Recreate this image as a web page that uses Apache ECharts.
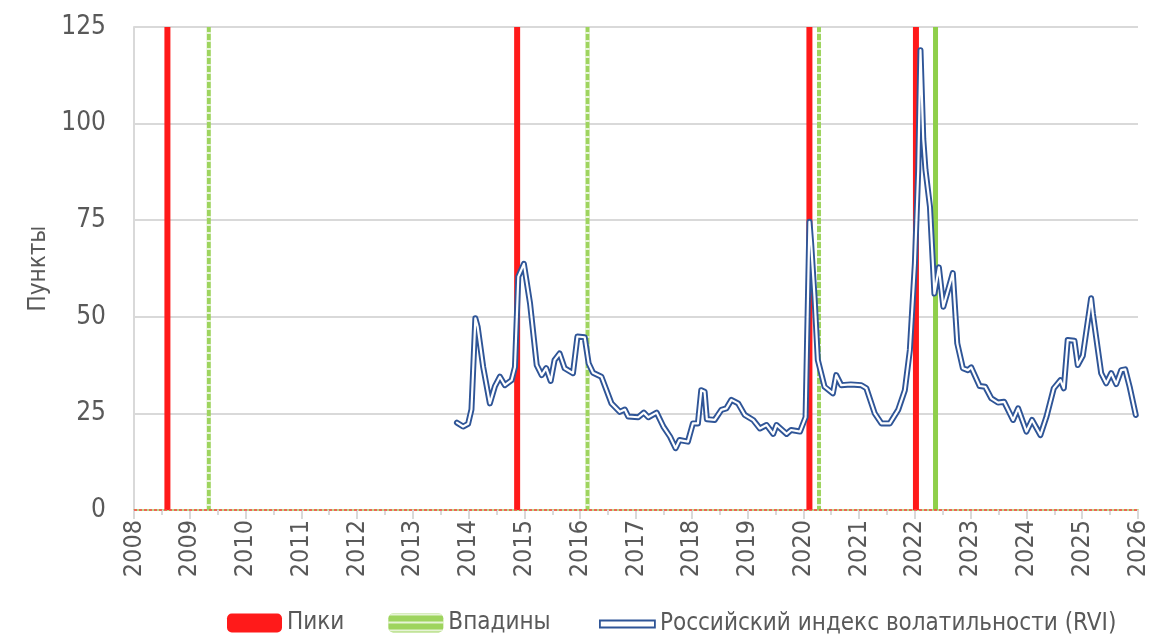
<!DOCTYPE html>
<html>
<head>
<meta charset="utf-8">
<script src="https://cdn.jsdelivr.net/npm/echarts@6/dist/echarts.min.js"></script>
<style>
  html, body { margin: 0; padding: 0; background: #fff; }
  #container1 { width: 1167px; height: 640px; }
</style>
</head>
<body>
<div id="container1"></div>
<script>
// даты пиков и впадин (доли года)
var peakDates = [2008.59, 2014.86, 2020.10, 2022.01];
var troughDates = [2009.35, 2016.14, 2020.29];
var troughSolidDates = [2022.37];

// RVI, точки
var rviDates = [2013.79, 2013.90, 2013.99, 2014.05, 2014.12, 2014.16, 2014.26, 2014.38, 2014.47, 2014.56,
  2014.65, 2014.77, 2014.83, 2014.89, 2014.99, 2015.10, 2015.22, 2015.31, 2015.39, 2015.47,
  2015.54, 2015.63, 2015.72, 2015.87, 2015.95, 2016.08, 2016.15, 2016.23, 2016.38, 2016.56,
  2016.71, 2016.80, 2016.86, 2017.04, 2017.14, 2017.22, 2017.37, 2017.49, 2017.61, 2017.71,
  2017.78, 2017.93, 2018.02, 2018.11, 2018.17, 2018.23, 2018.27, 2018.41, 2018.53, 2018.62,
  2018.71, 2018.83, 2018.95, 2019.10, 2019.22, 2019.34, 2019.46, 2019.52, 2019.70, 2019.78,
  2019.94, 2020.04, 2020.11, 2020.14, 2020.20, 2020.26, 2020.38, 2020.53, 2020.59, 2020.68,
  2020.85, 2021.04, 2021.13, 2021.28, 2021.40, 2021.55, 2021.70, 2021.82, 2021.91, 2022.00,
  2022.06, 2022.10, 2022.15, 2022.19, 2022.27, 2022.35, 2022.43, 2022.51, 2022.68, 2022.76,
  2022.86, 2022.95, 2023.01, 2023.16, 2023.26, 2023.37, 2023.49, 2023.60, 2023.76, 2023.85,
  2024.00, 2024.10, 2024.25, 2024.36, 2024.49, 2024.61, 2024.67, 2024.74, 2024.86, 2024.92,
  2025.01, 2025.16, 2025.19, 2025.34, 2025.43, 2025.52, 2025.61, 2025.70, 2025.77, 2025.85,
  2025.96];
var rviValues = [22.6, 21.6, 22.3, 26, 49.6, 47.5, 37, 27.6, 32, 34.5,
  32.3, 33.6, 37, 60.4, 63.7, 53.5, 37.5, 34.9, 36.7, 33.4,
  38.8, 40.5, 36.7, 35.4, 44.9, 44.7, 38, 35.5, 34.5, 27.6,
  25.4, 26, 24.2, 24, 25.2, 24, 25.2, 21.6, 19, 16,
  18.1, 17.7, 22.4, 22.4, 31, 30.6, 23.5, 23.3, 25.9, 26.3,
  28.5, 27.6, 24.6, 23.3, 21.1, 22, 19.7, 22, 19.7, 20.7,
  20.3, 24, 74.6, 69, 55.2, 38.8, 31.9, 30.2, 34.9, 32.3,
  32.5, 32.3, 31.5, 25, 22.4, 22.4, 25.9, 31, 41.4, 63.8,
  88, 119, 96, 88, 78.5, 56, 62.8, 52.6, 61.3, 43.1,
  36.7, 36.2, 36.9, 32.1, 31.9, 28.9, 27.8, 28, 23.3, 26.3,
  20.3, 23.3, 19.4, 24.2, 31.5, 33.6, 31.5, 44, 43.8, 37.5,
  39.9, 54.8, 50.9, 35.4, 32.8, 35.4, 32.6, 36.2, 36.4, 31.9,
  24.6];

var yMin = 0, yMax = 125, yStep = 25;
var xMin = 2008, xMax = 2026;

var dom = document.getElementById("container1");
var myChart = echarts.init(dom, null, {renderer: 'canvas'});

var FONT = "'Liberation Sans Narrow', 'Arial Narrow', 'DejaVu Sans Condensed', sans-serif";
var TXT = '#595959';
var BLUE = '#2f5597';
var RVI = 'Российский индекс волатильности (RVI)';

var rviData = rviDates.map(function (d, i) { return [d, rviValues[i]]; });
var peakData = peakDates.map(function (d) { return [d, yMax]; });
var troughData = troughDates.map(function (d) { return [d, yMax]; });
var troughSolidData = troughSolidDates.map(function (d) { return [d, yMax]; });

var option = {
  animation: false,
  textStyle: {fontFamily: FONT},
  grid: {left: 134, right: 29, top: 27, bottom: 130},
  legend: [{
    data: ['Пики', 'Впадины'],
    left: 222, top: 606,
    itemWidth: 55, itemHeight: 19, itemGap: 44,
    textStyle: {fontFamily: FONT, fontSize: 24, color: TXT}
  }, {
    data: [{name: RVI, icon: 'rect', itemStyle: {color: '#fff', borderColor: BLUE, borderWidth: 1.8}}],
    left: 594, top: 607,
    itemWidth: 55, itemHeight: 7,
    textStyle: {fontFamily: FONT, fontSize: 24, color: TXT}
  }],
  xAxis: {
    type: 'value',
    min: xMin, max: xMax, interval: 1,
    axisLine: {onZero: false, lineStyle: {color: '#b5dc8c', width: 2}},
    axisTick: {show: true, length: 9, lineStyle: {color: '#d9d9d9', width: 2}},
    minorTick: {show: true, splitNumber: 2, length: 5, lineStyle: {color: '#d9d9d9', width: 2}},
    splitLine: {show: false},
    axisLabel: {
      rotate: 90, margin: 10,
      fontFamily: FONT, fontSize: 25, color: TXT,
      formatter: function (v) { return String(v); }
    }
  },
  yAxis: {
    type: 'value',
    min: yMin, max: yMax, interval: yStep,
    name: 'Пункты', nameLocation: 'middle', nameGap: 80,
    nameTextStyle: {fontFamily: FONT, fontSize: 24, color: TXT},
    axisLine: {show: true, lineStyle: {color: '#d9d9d9', width: 2}},
    axisTick: {show: false},
    splitLine: {lineStyle: {color: '#d9d9d9', width: 2}},
    axisLabel: {margin: 28, fontFamily: FONT, fontSize: 26, color: TXT}
  },
  series: [{
    name: 'Пики',
    type: 'bar',
    barWidth: 6,
    barGap: '-100%',
    itemStyle: {color: '#ff1a1a'},
    data: peakData,
    markLine: {
      silent: true, symbol: 'none', label: {show: false},
      lineStyle: {color: '#ff4040', type: [3, 2], width: 1.5},
      data: [{yAxis: 0}]
    }
  }, {
    name: 'Впадины',
    type: 'bar',
    barWidth: 4,
    barGap: '-100%',
    itemStyle: {
      color: '#9ed45e',
      decal: {
        symbol: 'rect', symbolSize: 1,
        dashArrayX: [1, 0], dashArrayY: [2, 6],
        color: 'rgba(255,255,255,0.75)'
      }
    },
    data: troughData
  }, {
    name: 'troughs-solid',
    type: 'bar',
    barWidth: 5,
    barGap: '-100%',
    itemStyle: {color: '#8fcf4a'},
    data: troughSolidData
  }, {
    name: RVI,
    type: 'line',
    showSymbol: false,
    lineStyle: {color: BLUE, width: 6, join: 'round', cap: 'round'},
    itemStyle: {color: BLUE},
    z: 5,
    data: rviData
  }, {
    name: 'rvi-inner',
    type: 'line',
    showSymbol: false,
    lineStyle: {color: '#ffffff', width: 2.2, join: 'round', cap: 'round'},
    z: 6,
    data: rviData
  }]
};

myChart.setOption(option, true);
</script>
</body>
</html>
